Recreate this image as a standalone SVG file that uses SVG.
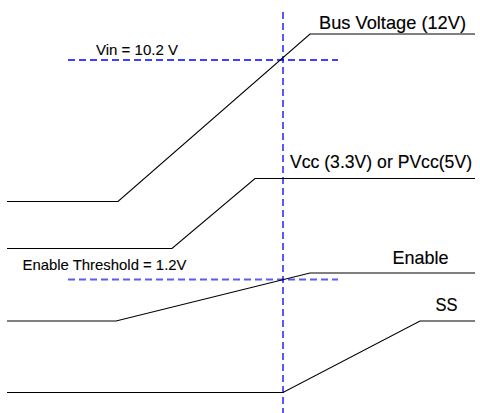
<svg xmlns="http://www.w3.org/2000/svg" width="480" height="413" viewBox="0 0 480 413">
<style>
.sig{fill:none;stroke:#000;stroke-width:1.1}
.dash{fill:none;stroke:#0000ff;stroke-width:1.3;stroke-dasharray:7 4}
.dash2{fill:none;stroke:#5c5cf0;stroke-width:1.8;stroke-dasharray:7 4}
.lbl{font-family:"Liberation Sans",Arial,sans-serif;font-size:18.5px;fill:#000;stroke:#000;stroke-width:0.15}
.sm{font-family:"Liberation Sans",Arial,sans-serif;font-size:15px;fill:#000;stroke:#000;stroke-width:0.1}
</style>
<rect width="480" height="413" fill="#fff"/>
<g id="connectors">
<line class="dash" x1="68" y1="60" x2="338" y2="60"/>
<line class="dash2" x1="68" y1="279.5" x2="338" y2="279.5"/>
<line class="dash" x1="283" y1="12" x2="283" y2="413"/>
</g>
<g id="bus">
<polyline class="sig" points="7,201.5 118,201.5 310,34 475,34"/>
<text class="lbl" x="319" y="29" textLength="147" lengthAdjust="spacingAndGlyphs">Bus Voltage (12V)</text>
</g>
<g id="vin">
<text class="sm" x="96" y="55" textLength="82" lengthAdjust="spacingAndGlyphs">Vin = 10.2 V</text>
</g>
<g id="vcc">
<polyline class="sig" points="7,248.5 172,248.5 255,178.5 475,178.5"/>
<text class="lbl" x="290" y="168" textLength="182" lengthAdjust="spacingAndGlyphs">Vcc (3.3V) or PVcc(5V)</text>
</g>
<g id="threshold">
<text class="sm" x="22.5" y="270" textLength="164" lengthAdjust="spacingAndGlyphs">Enable Threshold = 1.2V</text>
</g>
<g id="enable">
<polyline class="sig" points="7,321 116,321 310,273 475,273"/>
<text class="lbl" x="392.5" y="263.5" textLength="56" lengthAdjust="spacingAndGlyphs">Enable</text>
</g>
<g id="ss">
<polyline class="sig" points="7,392.5 283,392.5 420,321 475,321"/>
<text class="lbl" x="435.5" y="311" textLength="22" lengthAdjust="spacingAndGlyphs">SS</text>
</g>
</svg>
